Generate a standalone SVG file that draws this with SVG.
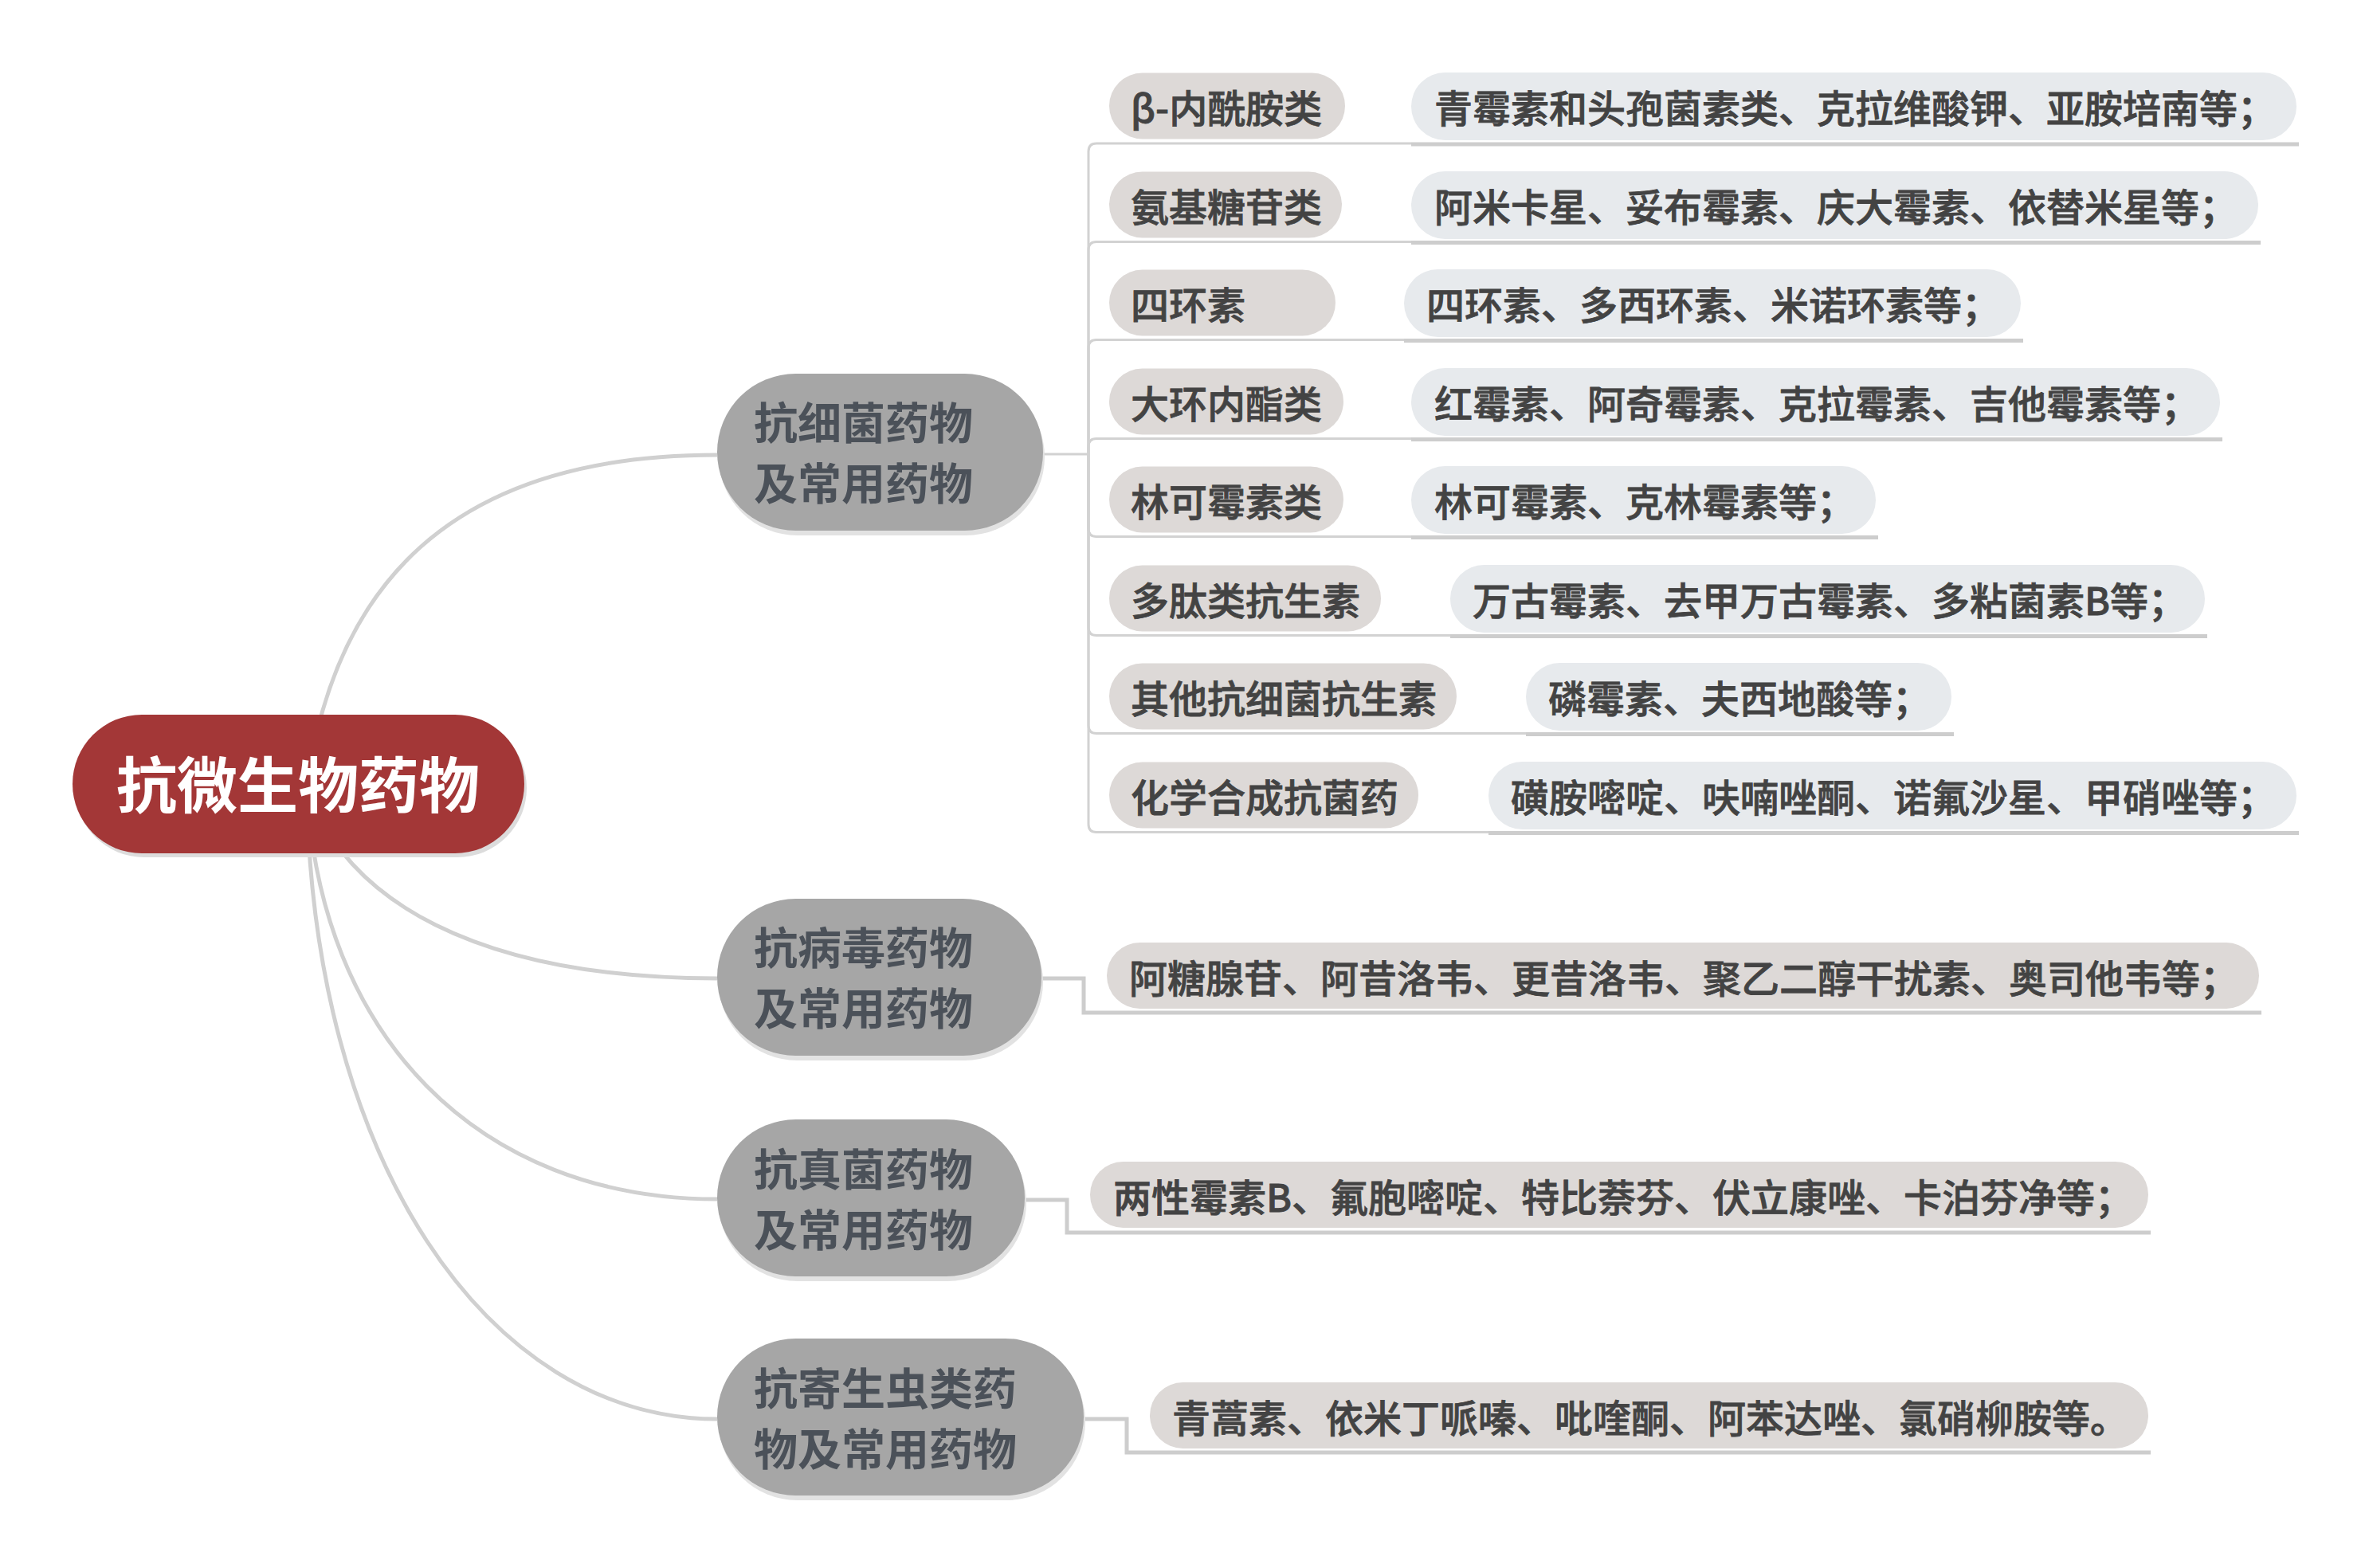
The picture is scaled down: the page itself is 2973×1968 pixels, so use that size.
<svg xmlns="http://www.w3.org/2000/svg" width="2973" height="1968" viewBox="0 0 2973 1968">
<style>
text{font-family:"Noto Sans CJK SC","Noto Sans",sans-serif;}
.root-t{font-size:76px;font-weight:700;fill:#ffffff;}
.l1{fill:#a6a6a6;}
.l1s{fill:#e2e2e2;}
.l1-t{font-size:55px;font-weight:700;fill:#4b5159;}
.cat{fill:#ddd9d7;}
.det{fill:#e7eaed;}
.pt{font-size:48px;font-weight:500;fill:#434343;stroke:#434343;stroke-width:0.8;}
.conn{fill:none;stroke:#d0d0d0;stroke-width:5;}
.br{fill:none;stroke:#d2d2d2;stroke-width:3;}
.ul{fill:none;stroke:#cdcdcd;stroke-width:5;}
</style>
<rect width="2973" height="1968" fill="#ffffff"/>
<g id="connectors">
<path class="conn" d="M385 986 C420 740 560 571 900 571"/>
<path class="conn" d="M385 986 C430 1130 600 1228 900 1228"/>
<path class="conn" d="M385 986 C400 1300 600 1505 900 1505"/>
<path class="conn" d="M385 986 C390 1450 610 1781 900 1781"/>
<path class="br" d="M1309 570 H1366"/>
<path class="br" d="M1366 570 V190 Q1366 180 1376 180 H1771"/>
<path class="br" d="M1366 570 V313.5 Q1366 303.5 1376 303.5 H1771"/>
<path class="br" d="M1366 570 V436.5 Q1366 426.5 1376 426.5 H1762"/>
<path class="br" d="M1366 570 V560.5 Q1366 550.5 1376 550.5 H1771"/>
<path class="br" d="M1366 570 V663.5 Q1366 673.5 1376 673.5 H1771"/>
<path class="br" d="M1366 570 V787.5 Q1366 797.5 1376 797.5 H1820"/>
<path class="br" d="M1366 570 V910.5 Q1366 920.5 1376 920.5 H1915"/>
<path class="br" d="M1366 570 V1034.5 Q1366 1044.5 1376 1044.5 H1868"/>
<path class="ul" d="M1771 181 H2885"/>
<path class="ul" d="M1771 304.5 H2837"/>
<path class="ul" d="M1762 427.5 H2539"/>
<path class="ul" d="M1771 551.5 H2789"/>
<path class="ul" d="M1771 674.5 H2357"/>
<path class="ul" d="M1820 798.5 H2770"/>
<path class="ul" d="M1915 921.5 H2452"/>
<path class="ul" d="M1868 1045.5 H2885"/>
<path class="ul" d="M1307 1228 H1360 V1271 H2838"/>
<path class="ul" d="M1286 1506 H1339 V1547 H2699"/>
<path class="ul" d="M1360 1781 H1414 V1823 H2699"/>
</g>
<g id="root">
<rect x="94" y="902" width="567" height="174" rx="87" fill="#dcdcdc"/>
<rect x="91" y="897" width="567" height="174" rx="87" fill="#a33737"/>
<text class="root-t" x="374" y="1014" text-anchor="middle">抗微生物药物</text>
</g>
<g id="n-bacteria">
<rect class="l1s" x="902" y="475" width="409" height="197" rx="98.5"/>
<rect class="l1" x="900" y="469" width="409" height="197" rx="98.5"/>
<text class="l1-t" x="946" y="551">抗细菌药物</text>
<text class="l1-t" x="946" y="627">及常用药物</text>
</g>
<g id="n-virus">
<rect class="l1s" x="902" y="1134" width="407" height="197" rx="98.5"/>
<rect class="l1" x="900" y="1128" width="407" height="197" rx="98.5"/>
<text class="l1-t" x="946" y="1209.5">抗病毒药物</text>
<text class="l1-t" x="946" y="1285.5">及常用药物</text>
</g>
<g id="n-fungus">
<rect class="l1s" x="902" y="1411" width="386" height="197" rx="98.5"/>
<rect class="l1" x="900" y="1405" width="386" height="197" rx="98.5"/>
<text class="l1-t" x="946" y="1487.5">抗真菌药物</text>
<text class="l1-t" x="946" y="1563.5">及常用药物</text>
</g>
<g id="n-parasite">
<rect class="l1s" x="902" y="1686" width="460" height="197" rx="98.5"/>
<rect class="l1" x="900" y="1680" width="460" height="197" rx="98.5"/>
<text class="l1-t" x="946" y="1762.5">抗寄生虫类药</text>
<text class="l1-t" x="946" y="1838.5">物及常用药物</text>
</g>
<g id="c1"><rect class="cat" x="1392" y="91.5" width="296" height="83" rx="41.5"/><text class="pt" x="1419" y="154">β-内酰胺类</text></g>
<g id="d1"><rect class="det" x="1771" y="91" width="1111" height="85" rx="42.5"/><text class="pt" x="1800" y="154">青霉素和头孢菌素类、克拉维酸钾、亚胺培南等；</text></g>
<g id="c2"><rect class="cat" x="1392" y="215.5" width="292" height="83" rx="41.5"/><text class="pt" x="1419" y="278">氨基糖苷类</text></g>
<g id="d2"><rect class="det" x="1771" y="215" width="1063" height="85" rx="42.5"/><text class="pt" x="1800" y="278">阿米卡星、妥布霉素、庆大霉素、依替米星等；</text></g>
<g id="c3"><rect class="cat" x="1392" y="338.5" width="284" height="83" rx="41.5"/><text class="pt" x="1419" y="401">四环素</text></g>
<g id="d3"><rect class="det" x="1762" y="338" width="774" height="85" rx="42.5"/><text class="pt" x="1790" y="401">四环素、多西环素、米诺环素等；</text></g>
<g id="c4"><rect class="cat" x="1392" y="462.5" width="294" height="83" rx="41.5"/><text class="pt" x="1419" y="525">大环内酯类</text></g>
<g id="d4"><rect class="det" x="1771" y="462" width="1015" height="85" rx="42.5"/><text class="pt" x="1800" y="525">红霉素、阿奇霉素、克拉霉素、吉他霉素等；</text></g>
<g id="c5"><rect class="cat" x="1392" y="585.5" width="294" height="83" rx="41.5"/><text class="pt" x="1419" y="648">林可霉素类</text></g>
<g id="d5"><rect class="det" x="1771" y="585" width="583" height="85" rx="42.5"/><text class="pt" x="1800" y="648">林可霉素、克林霉素等；</text></g>
<g id="c6"><rect class="cat" x="1392" y="709.5" width="341" height="83" rx="41.5"/><text class="pt" x="1419" y="772">多肽类抗生素</text></g>
<g id="d6"><rect class="det" x="1820" y="709" width="947" height="85" rx="42.5"/><text class="pt" x="1848" y="772">万古霉素、去甲万古霉素、多粘菌素B等；</text></g>
<g id="c7"><rect class="cat" x="1392" y="832.5" width="436" height="83" rx="41.5"/><text class="pt" x="1419" y="895">其他抗细菌抗生素</text></g>
<g id="d7"><rect class="det" x="1915" y="832" width="534" height="85" rx="42.5"/><text class="pt" x="1943" y="895">磷霉素、夫西地酸等；</text></g>
<g id="c8"><rect class="cat" x="1392" y="956.5" width="388" height="83" rx="41.5"/><text class="pt" x="1419" y="1019">化学合成抗菌药</text></g>
<g id="d8"><rect class="det" x="1868" y="956" width="1014" height="85" rx="42.5"/><text class="pt" x="1896" y="1019">磺胺嘧啶、呋喃唑酮、诺氟沙星、甲硝唑等；</text></g>
<g id="v1"><rect class="cat" x="1389" y="1183" width="1446" height="83" rx="41.5"/><text class="pt" x="1417" y="1245.5">阿糖腺苷、阿昔洛韦、更昔洛韦、聚乙二醇干扰素、奥司他韦等；</text></g>
<g id="f1"><rect class="cat" x="1368" y="1458" width="1328" height="83" rx="41.5"/><text class="pt" x="1397" y="1520.5">两性霉素B、氟胞嘧啶、特比萘芬、伏立康唑、卡泊芬净等；</text></g>
<g id="p1"><rect class="cat" x="1443" y="1735" width="1253" height="83" rx="41.5"/><text class="pt" x="1471" y="1797.5">青蒿素、依米丁哌嗪、吡喹酮、阿苯达唑、氯硝柳胺等。</text></g>
</svg>
